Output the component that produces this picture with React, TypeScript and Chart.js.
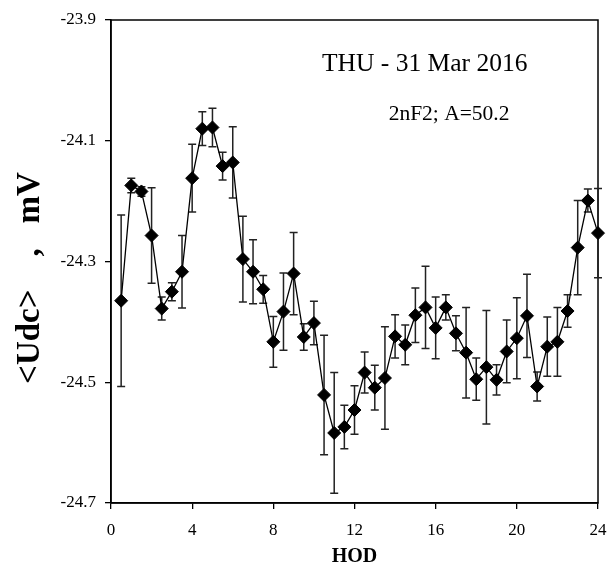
import React, { useEffect, useRef } from "react";
import { Chart, registerables } from "chart.js";

Chart.register(...registerables);

const hod = [0.5, 1, 1.5, 2, 2.5, 3, 3.5, 4, 4.5, 5, 5.5, 6, 6.5, 7, 7.5, 8, 8.5, 9, 9.5, 10, 10.5, 11, 11.5, 12,
  12.5, 13, 13.5, 14, 14.5, 15, 15.5, 16, 16.5, 17, 17.5, 18, 18.5, 19, 19.5, 20, 20.5, 21, 21.5, 22, 22.5, 23, 23.5, 24];

const udc = [-24.365, -24.174, -24.184, -24.257, -24.378, -24.350, -24.317, -24.162, -24.080, -24.078, -24.142, -24.136,
  -24.296, -24.317, -24.346, -24.433, -24.383, -24.320, -24.425, -24.402, -24.521, -24.584, -24.574, -24.546,
  -24.484, -24.509, -24.493, -24.424, -24.438, -24.389, -24.376, -24.410, -24.376, -24.419, -24.451, -24.495,
  -24.475, -24.496, -24.449, -24.427, -24.390, -24.507, -24.441, -24.433, -24.382, -24.277, -24.199, -24.253];

const err = [0.142, 0.012, 0.008, 0.079, 0.019, 0.015, 0.06, 0.056, 0.028, 0.032, 0.023, 0.059,
  0.071, 0.053, 0.023, 0.042, 0.064, 0.068, 0.022, 0.036, 0.099, 0.1, 0.036, 0.04,
  0.034, 0.037, 0.085, 0.036, 0.033, 0.045, 0.068, 0.051, 0.021, 0.029, 0.075, 0.035,
  0.094, 0.025, 0.052, 0.067, 0.069, 0.024, 0.049, 0.057, 0.027, 0.078, 0.019, 0.074];

const xTicks = [0, 4, 8, 12, 16, 20, 24];
const yTicks = [-24.7, -24.5, -24.3, -24.1, -23.9];

const titleLine = "THU - 31 Mar 2016";
const titlePos = [15.46, -23.985];
const subLine = "2nF2; A=50.2";
const subPos = [16.66, -24.065];

const xTitle = "HOD";
const yTitle = "<Udc>    ,   mV    ";

const FONT = "'Liberation Serif', 'Times New Roman', serif";

const errorBarPlugin = {
  id: "errorBars",
  beforeDatasetsDraw(chart: any) {
    const { ctx, chartArea, scales } = chart;
    const xs = scales.x;
    const ys = scales.y;
    ctx.save();
    ctx.strokeStyle = "#000";
    ctx.lineWidth = 1.5;
    ctx.strokeRect(chartArea.left, chartArea.top, chartArea.right - chartArea.left, chartArea.bottom - chartArea.top);
    ctx.strokeStyle = "#222";
    ctx.lineWidth = 1.5;
    for (let i = 0; i < hod.length; i++) {
      const px = xs.getPixelForValue(hod[i]);
      const top = ys.getPixelForValue(udc[i] + err[i]);
      const bot = ys.getPixelForValue(udc[i] - err[i]);
      ctx.beginPath();
      ctx.moveTo(px, top);
      ctx.lineTo(px, bot);
      ctx.moveTo(px - 4, top);
      ctx.lineTo(px + 4, top);
      ctx.moveTo(px - 4, bot);
      ctx.lineTo(px + 4, bot);
      ctx.stroke();
    }
    ctx.restore();
  },
  afterDraw(chart: any) {
    const { ctx, scales } = chart;
    const xs = scales.x;
    const ys = scales.y;
    ctx.save();
    ctx.fillStyle = "#000";
    ctx.textAlign = "center";
    ctx.textBaseline = "alphabetic";
    ctx.font = `25.5px ${FONT}`;
    ctx.fillText(titleLine, xs.getPixelForValue(titlePos[0]), ys.getPixelForValue(titlePos[1]));
    ctx.font = `21.5px ${FONT}`;
    ctx.fillText(subLine, xs.getPixelForValue(subPos[0]), ys.getPixelForValue(subPos[1]));
    ctx.restore();
  },
};

export default function App() {
  const ref = useRef<HTMLCanvasElement>(null);
  useEffect(() => {
    if (!ref.current) return;
    const chart = new Chart(ref.current, {
      type: "line",
      data: {
        datasets: [
          {
            data: hod.map((h, i) => ({ x: h, y: udc[i] })),
            borderColor: "#000",
            borderWidth: 1.3,
            backgroundColor: "#000",
            pointStyle: "rectRot",
            pointRadius: 6.5,
            pointBorderWidth: 1,
            pointBorderColor: "#000",
            pointBackgroundColor: "#000",
            tension: 0,
            clip: false,
          } as any,
        ],
      },
      options: {
        responsive: false,
        animation: false,
        events: [],
        layout: { padding: { top: 20, right: 14, left: 0, bottom: 0 } },
        plugins: { legend: { display: false }, tooltip: { enabled: false }, title: { display: false } },
        scales: {
          x: {
            type: "linear",
            position: "bottom",
            min: 0,
            max: 24,
            afterBuildTicks: (s: any) => {
              s.ticks = xTicks.map((v) => ({ value: v }));
            },
            afterFit: (s: any) => {
              s.height = 70;
              s.paddingRight = 0;
              s.paddingLeft = 0;
            },
            grid: { drawOnChartArea: false, drawTicks: true, tickLength: 6, color: "#000", lineWidth: 1.3 },
            border: { display: true, color: "#000", width: 1.5 },
            ticks: { font: { family: FONT, size: 17 }, color: "#000", padding: 11, maxRotation: 0, autoSkip: false },
            title: { display: true, text: xTitle, color: "#000", font: { family: FONT, size: 20, weight: "bold" }, padding: { top: 0, bottom: 4 } },
          },
          y: {
            type: "linear",
            position: "left",
            min: -24.7,
            max: -23.9,
            afterBuildTicks: (s: any) => {
              s.ticks = yTicks.map((v) => ({ value: v }));
            },
            afterFit: (s: any) => {
              s.width = 111;
            },
            grid: { drawOnChartArea: false, drawTicks: true, tickLength: 6, color: "#000", lineWidth: 1.3 },
            border: { display: true, color: "#000", width: 1.5 },
            ticks: {
              font: { family: FONT, size: 17 },
              color: "#000",
              padding: 9,
              autoSkip: false,
              callback: (v: any) => Number(v).toFixed(1),
            },
            title: { display: true, text: yTitle, color: "#000", font: { family: FONT, size: 33, weight: "bold" }, padding: { top: 11, bottom: 0 } },
          },
        },
      },
      plugins: [errorBarPlugin],
    });
    return () => chart.destroy();
  }, []);
  return (
    <div style={{ position: "absolute", left: 0, top: 0, width: 612, height: 573, background: "#fff" }}>
      <canvas ref={ref} width={612} height={573} />
    </div>
  );
}
